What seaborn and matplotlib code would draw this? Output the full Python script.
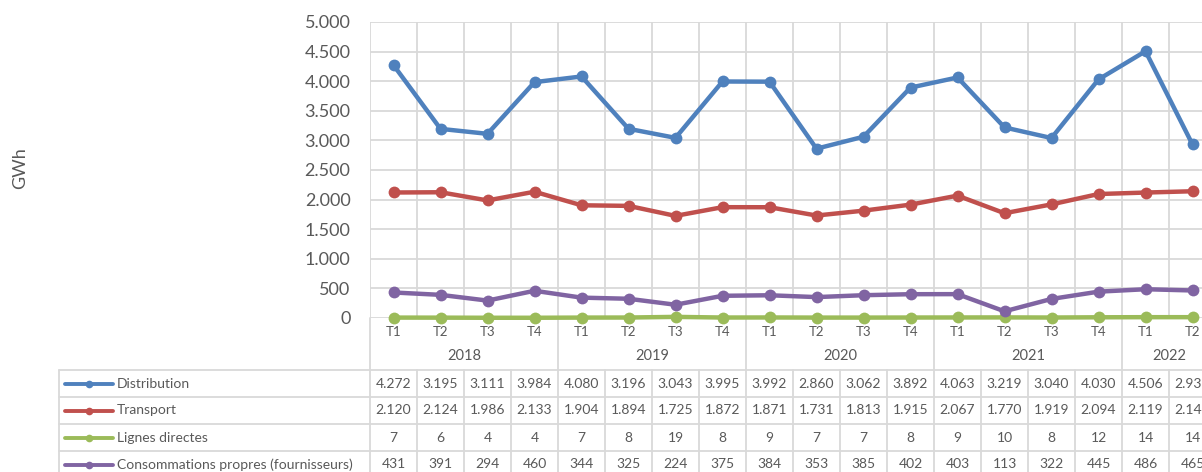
import matplotlib
matplotlib.use("Agg")
import matplotlib.pyplot as plt
import matplotlib.transforms as mtransforms
import seaborn as sns
import pandas as pd
import numpy as np

# ---------------- data ----------------
quarters = ["T1", "T2", "T3", "T4", "T1", "T2", "T3", "T4", "T1", "T2", "T3", "T4",
            "T1", "T2", "T3", "T4", "T1", "T2"]
years = ["2018", "2019", "2020", "2021", "2022"]
year_spans = [4, 4, 4, 4, 2]
series_names = ["Distribution", "Transport", "Lignes directes",
                "Consommations propres (fournisseurs)"]
distribution = [4272, 3195, 3111, 3984, 4080, 3196, 3043, 3995, 3992, 2860, 3062, 3892,
                4063, 3219, 3040, 4030, 4506, 2931]
transport = [2120, 2124, 1986, 2133, 1904, 1894, 1725, 1872, 1871, 1731, 1813, 1915,
             2067, 1770, 1919, 2094, 2119, 2141]
lignes_directes = [7, 6, 4, 4, 7, 8, 19, 8, 9, 7, 7, 8, 9, 10, 8, 12, 14, 14]
consommations = [431, 391, 294, 460, 344, 325, 224, 375, 384, 353, 385, 402, 403, 113,
                 322, 445, 486, 465]
y_ticks = [0, 500, 1000, 1500, 2000, 2500, 3000, 3500, 4000, 4500, 5000]
colors = ["#4F81BD", "#C0504D", "#9BBB59", "#8064A2"]

all_values = [distribution, transport, lignes_directes, consommations]
rows = []
for name, vals in zip(series_names, all_values):
    for i, v in enumerate(vals):
        rows.append({"idx": i, "value": v, "serie": name})
df = pd.DataFrame(rows)

# ---------------- style ----------------
sns.set_theme(style="white")
plt.rcParams["font.family"] = ["Lato", "DejaVu Sans"]
TXT = "#595959"
GRID = "#D9D9D9"

W, H = 1202, 472
fig = plt.figure(figsize=(W / 100, H / 100), dpi=100)
fig.patch.set_facecolor("white")

n = len(quarters)
cw = 47.0               # pixel width of one category
x0, ytop, y0 = 370, 22, 318
ax = fig.add_axes([x0 / W, (H - y0) / H, n * cw / W, (y0 - ytop) / H])

palette = dict(zip(series_names, colors))
sns.lineplot(data=df, x="idx", y="value", hue="serie", hue_order=series_names,
             palette=palette, marker="o", markersize=8.5, markeredgewidth=0,
             linewidth=3.2, legend=False, ax=ax, zorder=3)
for ln in ax.lines:
    ln.set_clip_on(False)

ax.set_xlim(-0.5, n - 0.5)
ax.set_ylim(0, 5000)
for s in ax.spines.values():
    s.set_visible(False)
ax.set_xlabel("")
ax.set_ylabel("")

ax.set_yticks(y_ticks)
ax.set_yticklabels([f"{v:,}".replace(",", ".") for v in y_ticks])
ax.tick_params(axis="y", length=0, pad=14, labelsize=13, labelcolor=TXT)
ax.yaxis.grid(True, color=GRID, linewidth=1.3, zorder=0)

ax.set_xticks(range(n))
ax.set_xticklabels(quarters)
ax.tick_params(axis="x", which="major", length=0, pad=6, labelsize=9.5, labelcolor=TXT)
ax.set_xticks(np.arange(-0.5, n, 1.0), minor=True)
ax.tick_params(axis="x", which="minor", length=18, width=1.3, color=GRID, direction="out")
ax.xaxis.grid(True, which="minor", color=GRID, linewidth=1.3, zorder=0)
ax.xaxis.grid(False, which="major")
ax.set_axisbelow(True)

# helpers: pixel -> coordinates
trans = mtransforms.blended_transform_factory(ax.transData, ax.transAxes)
def fy(py):
    return (y0 - py) / (y0 - ytop)
def fx(px):
    return (px - x0) / cw - 0.5

# year row
pos = 0
for yr, span in zip(years, year_spans):
    ax.plot([pos - 0.5, pos - 0.5], [fy(318), fy(370)], color=GRID, lw=1.3,
            transform=trans, clip_on=False)
    ax.text(pos - 0.5 + span / 2, fy(356), yr, transform=trans, ha="center",
            va="center", fontsize=10.5, color=TXT)
    pos += span
ax.plot([pos - 0.5, pos - 0.5], [fy(318), fy(370)], color=GRID, lw=1.3,
        transform=trans, clip_on=False)

# data table
row_tops = [370, 397, 424, 451, 478]
left_px = 59
for rt in row_tops:
    ax.plot([fx(left_px), n - 0.5], [fy(rt), fy(rt)], color=GRID, lw=1.3,
            transform=trans, clip_on=False)
ax.plot([fx(left_px), fx(left_px)], [fy(370), fy(478)], color=GRID, lw=1.3,
        transform=trans, clip_on=False)
for k in range(n + 1):
    ax.plot([k - 0.5, k - 0.5], [fy(370), fy(478)], color=GRID, lw=1.3,
            transform=trans, clip_on=False)

for r, (name, vals, col) in enumerate(zip(series_names, all_values, colors)):
    cy = (row_tops[r] + row_tops[r + 1]) / 2
    ax.plot([fx(65), fx(89), fx(113)], [fy(cy)] * 3, color=col, lw=2.8,
            marker="o", markersize=5.5, markevery=[1], markeredgewidth=0,
            transform=trans, clip_on=False, solid_capstyle="round")
    ax.text(fx(117), fy(cy), name, transform=trans, ha="left", va="center",
            fontsize=10, color=TXT)
    for i, v in enumerate(vals):
        ax.text(i, fy(cy), f"{v:,}".replace(",", "."), transform=trans,
                ha="center", va="center", fontsize=10, color=TXT)

fig.text(20 / W, 1 - 168 / H, "GWh", rotation=90, ha="center", va="center",
         fontsize=13, color=TXT)

fig.savefig("out.png", dpi=100, facecolor="white")
